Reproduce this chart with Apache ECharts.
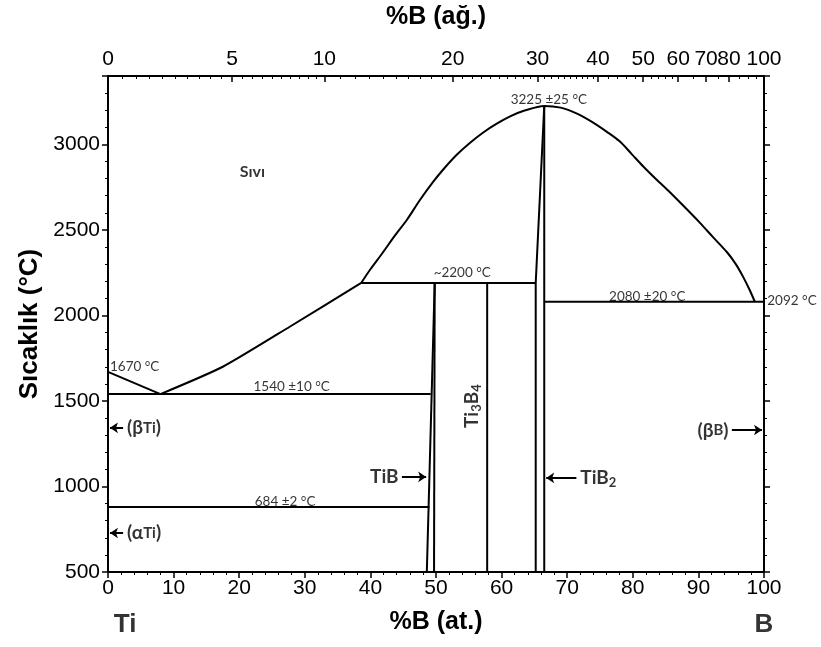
<!DOCTYPE html>
<html><head><meta charset="utf-8">
<script src="https://cdn.jsdelivr.net/npm/echarts@6/dist/echarts.min.js"></script>
<style>html,body{margin:0;padding:0;background:#fff}#c{width:821px;height:647px}</style>
</head><body><div id="c"></div>
<script>
// ---- data ----
const bottomTicks = [0,10,20,30,40,50,60,70,80,90,100];
const topWtLabels = [0,5,10,20,30,40,50,60,70,80,100];
const topWtMinor = [0.5,1,1.5,2,2.5,3,3.5,4,4.5,5.5,6,6.5,7,7.5,8,8.5,9,9.5,11,12,13,14,15,16,17,18,19,21,22,23,24,25,26,27,28,29,31,32,33,34,35,36,37,38,39,42,44,46,48,52,54,56,58,65,75,85,90,95];
const yTicks = [500,1000,1500,2000,2500,3000];

const meltTi = [[0,1670],[8,1540]];
const liquidusTi = [[8,1540],[17.5,1700],[27.7,1934],[38.6,2190]];
const liquidusDome = [[38.6,2190],[40,2270],[41.9,2368],[43.7,2465],[45.6,2561],[47.5,2672],[49.5,2778],[51.3,2862],[53.2,2941],[55.2,3010],[57.2,3070],[59.2,3120],[61.3,3164],[63.5,3198],[66.5,3225],[69,3215],[71.5,3180],[73.9,3129],[76,3075],[78.0,3018],[79.8,2945],[81.6,2871],[83.6,2795],[85.7,2719],[88,2630],[90.2,2543],[92.3,2455],[94.4,2368],[95.7,2300],[96.8,2227],[97.8,2150],[98.6,2080]];
const eutectic1540 = [[0,1540],[49.2,1540]];
const eutectoid880 = [[0,880],[49.0,880]];
const peritectic2200 = [[38.6,2190],[65.2,2190]];
const tibLeft = [[48.6,500],[49.8,2190]];
const tibRight = [[49.7,500],[49.8,2190]];
const ti3b4Line = [[57.8,500],[57.8,2190]];
const tib2Left = [[65.2,500],[65.2,2190],[66.5,3225]];
const tib2Right = [[66.5,500],[66.5,3225]];
const eutectic2080 = [[66.5,2080],[100,2080]];

const noteTexts = ['1670 °C','1540 ±10 °C','684 ±2 °C','~2200 °C','3225 ±25 °C','2080 ±20 °C','2092 °C'];
const notePos = [[0.3,1702],[28,1585],[27,912],[54,2252],[67.2,3264],[82.2,2112],[100.5,2087]];
const noteAlign = ['left','center','center','center','center','center','left'];

const phaseTexts = ['Sıvı','(βTi)','(αTi)','TiB','TiB2','(βB)','Ti3B4'];
const phasePos = [[22,2840],[2.9,1343],[2.9,728],[44.3,1056],[72,1050],[94.6,1328],[55.4,1470]];
const arrowSegs = [[[2.3,1343],[0.3,1343]],[[2.3,728],[0.3,728]],[[44.8,1056],[48.5,1056]],[[71.4,1050],[66.8,1050]],[[95.1,1330],[99.7,1330]]];

const endTexts = ['Ti','B'];
const endPos = [[2.6,190],[100,190]];

// ---- helpers ----
function atFromWt(w){ if(w>=100) return 100; const a=w/10.81, b=(100-w)/47.867; return a/(a+b)*100; }
const topMajorAt = topWtLabels.map(atFromWt);
const topMinorAt = topWtMinor.map(atFromWt);
function wtLabelFor(v){ let best=0,d=1e9; topMajorAt.forEach((a,i)=>{const dd=Math.abs(a-v); if(dd<d){d=dd;best=i;}}); return String(topWtLabels[best]); }

const AX = 'Liberation Sans, Arial, sans-serif';
const ANN = 'Lato, "Open Sans", sans-serif';
const black = '#000';

function lineSeries(data, w){ return {type:'line', data, symbol:'none', showSymbol:false, silent:true, lineStyle:{color:black,width:w||2}, z:3}; }

const boundaryList = [meltTi, eutectic1540, eutectoid880, peritectic2200, tibLeft, tibRight, ti3b4Line, tib2Left, tib2Right, eutectic2080];
const series = boundaryList.map(d=>lineSeries(d,2));
series.push(Object.assign(lineSeries(liquidusTi,2),{smooth:0.2}));
series.push(Object.assign(lineSeries(liquidusDome,2),{smooth:0.3}));

const richSub = {
  a:{fontFamily:ANN,fontWeight:'bold',fontSize:19,color:black},
  b:{fontFamily:ANN,fontWeight:'bold',fontSize:15,color:black},
  s:{fontFamily:ANN,fontWeight:'bold',fontSize:13,color:black,padding:[10,0,0,0]}
};
const phaseFmt = {
  'Sıvı':'{c|Sıvı}',
  '(βTi)':'{a|(β}{b|Ti}{a|)}',
  '(αTi)':'{a|(α}{b|Ti}{a|)}',
  'TiB':'{a|TiB}',
  'TiB2':'{a|TiB}{s|2}',
  '(βB)':'{a|(β}{b|B}{a|)}',
  'Ti3B4':'{a|Ti}{s|3}{a|B}{s|4}'
};
const phaseAlign = ['center','left','left','right','left','right','center'];

const noteData = noteTexts.map((t,i)=>({value:notePos[i], label:{show:true, formatter:t, position:'inside', align:noteAlign[i], verticalAlign:'middle', fontFamily:ANN, fontSize:13.5, color:black}}));
const phaseData = phaseTexts.map((t,i)=>({value:phasePos[i], label:{show:true, formatter:phaseFmt[t], position:'inside', align:phaseAlign[i], verticalAlign:'middle', rotate: t==='Ti3B4'?90:0, rich:Object.assign({c:{fontFamily:ANN,fontWeight:'bold',fontSize:16,color:black}},richSub)}}));
const endData = endTexts.map((t,i)=>({value:endPos[i], label:{show:true, formatter:t, position:'inside', align:'center', verticalAlign:'middle', fontFamily:AX, fontWeight:'bold', fontSize:26, color:black}}));

series.push({type:'scatter', symbolSize:0, clip:false, silent:true, data:noteData.concat(phaseData).concat(endData), z:5});
series.push({type:'lines', coordinateSystem:'cartesian2d', silent:true, symbol:['none','arrow'], symbolSize:8, lineStyle:{color:black,width:2,opacity:1}, data:arrowSegs.map(c=>({coords:c})), z:4});

const chart = echarts.init(document.getElementById('c'), null, {renderer:'canvas'});
chart.setOption({
  animation:false,
  backgroundColor:'#fff',
  grid:{left:108, right:57, top:76, bottom:75, containLabel:false},
  xAxis:[
    {type:'value', position:'bottom', min:0, max:100, interval:10,
     name:'%B (at.)', nameLocation:'middle', nameGap:38,
     nameTextStyle:{fontFamily:AX, fontWeight:'bold', fontSize:25, color:black},
     axisLine:{show:true, onZero:false, lineStyle:{color:black,width:2}},
     axisTick:{show:true, length:6, lineStyle:{color:black,width:1.5}},
     minorTick:{show:true, splitNumber:5, length:3, lineStyle:{color:black,width:1}},
     axisLabel:{fontFamily:AX, fontSize:21, color:black, margin:6, formatter:(v)=>String(v)},
     splitLine:{show:false}, minorSplitLine:{show:false}},
    {type:'value', position:'top', min:0, max:100,
     name:'%B (ağ.)', nameLocation:'middle', nameGap:46,
     nameTextStyle:{fontFamily:AX, fontWeight:'bold', fontSize:25, color:black},
     axisLine:{show:true, onZero:false, lineStyle:{color:black,width:2}},
     axisTick:{show:true, inside:true, length:6, customValues:topMajorAt, lineStyle:{color:black,width:1.5}},
     axisLabel:{show:true, customValues:topMajorAt, formatter:(v)=>wtLabelFor(v), fontFamily:AX, fontSize:21, color:black, margin:6},
     splitLine:{show:false}},
    {type:'value', position:'top', min:0, max:100, offset:0,
     axisLine:{show:false},
     axisTick:{show:true, inside:true, length:3, customValues:topMinorAt, lineStyle:{color:black,width:1}},
     axisLabel:{show:false}, splitLine:{show:false}}
  ],
  yAxis:[
    {type:'value', position:'left', min:500, max:3400, interval:500,
     name:'Sıcaklık (°C)', nameLocation:'middle', nameGap:64,
     nameTextStyle:{fontFamily:AX, fontWeight:'bold', fontSize:26, color:black},
     axisLine:{show:true, onZero:false, lineStyle:{color:black,width:2}},
     axisTick:{show:true, length:6, lineStyle:{color:black,width:1.5}},
     minorTick:{show:true, splitNumber:5, length:3, lineStyle:{color:black,width:1}},
     axisLabel:{fontFamily:AX, fontSize:21, color:black, margin:8, showMaxLabel:false, formatter:(v)=>String(v)},
     splitLine:{show:false}, minorSplitLine:{show:false}},
    {type:'value', position:'right', min:500, max:3400, interval:500,
     axisLine:{show:true, onZero:false, lineStyle:{color:black,width:2}},
     axisTick:{show:true, length:6, lineStyle:{color:black,width:1.5}},
     minorTick:{show:true, splitNumber:5, length:3, lineStyle:{color:black,width:1}},
     axisLabel:{show:false}, splitLine:{show:false}, minorSplitLine:{show:false}}
  ],
  series: series
});
</script></body></html>
